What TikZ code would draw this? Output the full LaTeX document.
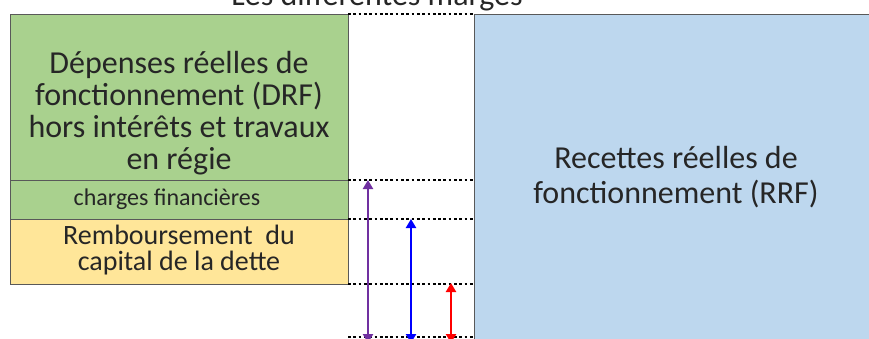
\documentclass[tikz,border=0pt]{standalone}
\usepackage{fontspec}
\setmainfont{Carlito}
\usetikzlibrary{arrows.meta}
\definecolor{drfgreen}{HTML}{A9D18E}
\definecolor{remborange}{HTML}{FFE699}
\definecolor{rrfblue}{HTML}{BDD7EE}
\definecolor{margepurple}{HTML}{7030A0}
\definecolor{boxline}{HTML}{595959}
\begin{document}
\begin{tikzpicture}[x=1pt,y=-1pt,
  box/.style={draw=boxline, line width=0.9pt, anchor=north west, inner sep=0pt, outer sep=0pt, minimum width=#1},
  bigtext/.style={font=\fontsize{32}{32}\selectfont, align=center, anchor=base, text=black!85},
  dotline/.style={line width=2.7pt, dash pattern=on 2.7pt off 2.6pt, black},
  marge/.style={line width=2.5pt, {Triangle[width=10pt,length=9pt]}-{Triangle[width=10pt,length=9pt]}}
]
\useasboundingbox (0,0) rectangle (869,338);
% title (cut off at the top)
\node[bigtext] (title) at (377,5) {Les différentes marges};
% right box
\node[box=420pt, fill=rrfblue, minimum height=340pt] (rrf) at (474,14) {};
\node[bigtext, font=\fontsize{32}{35}\selectfont] (rrft) at (676,203) {Recettes réelles de\\fonctionnement (RRF)};
% left boxes
\node[box=338pt, fill=drfgreen, minimum height=166pt] (drf) at (10,14) {};
\node[box=338pt, fill=drfgreen, minimum height=39pt] (chg) at (10,180) {};
\node[box=338pt, fill=remborange, minimum height=65pt] (remb) at (10,219) {};
\node[bigtext] (drft) at (179,169) {Dépenses réelles de\\fonctionnement (DRF)\\hors intérêts et travaux\\en régie};
\node[font=\fontsize{24}{24}\selectfont, anchor=base, text=black!85] (chgt) at (167,205) {charges financières};
\node[font=\fontsize{28}{26}\selectfont, align=center, anchor=base, text=black!85] (rembt) at (179,270) {Remboursement\ \ du\\capital de la dette};
% dotted levels
\coordinate (bot) at (348,337);
\draw[dotline] (drf.north east) -- (rrf.west |- drf.north east);
\draw[dotline] (drf.south east) -- (rrf.west |- drf.south east);
\draw[dotline] (chg.south east) -- (rrf.west |- chg.south east);
\draw[dotline] (remb.south east) -- (rrf.west |- remb.south east);
\draw[dotline] (bot) -- (rrf.west |- bot);
% margins arrows
\coordinate (pb) at (368,343);
\coordinate (bb) at (411,343);
\coordinate (rb) at (451,343);
\draw[marge, margepurple] (pb) -- (pb |- drf.south);
\draw[marge, blue] (bb) -- (bb |- chg.south);
\draw[marge, red] (rb) -- ([yshift=1pt]rb |- remb.south);
\end{tikzpicture}
\end{document}
